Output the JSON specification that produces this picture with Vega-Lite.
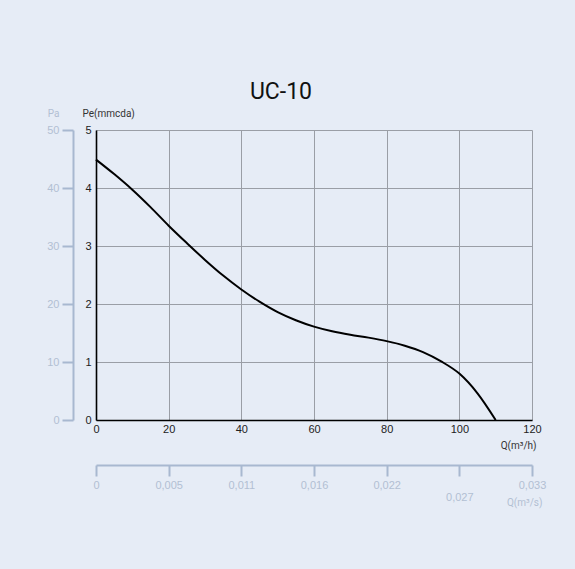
{
  "$schema": "https://vega.github.io/schema/vega-lite/v6.json",
  "width": 436,
  "height": 290,
  "autosize": {"type": "none"},
  "padding": {"left": 96, "top": 130, "right": 43, "bottom": 149},
  "background": "#e6ecf6",
  "title": {
    "text": "UC-10",
    "font": "Roboto",
    "fontSize": 23,
    "fontWeight": "normal",
    "color": "#111111",
    "anchor": "middle",
    "frame": "group",
    "dx": -33,
    "offset": 4
  },
  "config": {
    "view": {"stroke": null},
    "axis": {"labelFont": "Liberation Sans", "titleFont": "Roboto", "titleFontWeight": "normal", "labelFlush": false, "labelOverlap": false}
  },
  "data": {
    "values": [
      {"Q": 0, "Pe": 4.49},
      {"Q": 5, "Pe": 4.24},
      {"Q": 10, "Pe": 3.97},
      {"Q": 15, "Pe": 3.67},
      {"Q": 20, "Pe": 3.35},
      {"Q": 25, "Pe": 3.05},
      {"Q": 30, "Pe": 2.76},
      {"Q": 35, "Pe": 2.49},
      {"Q": 40, "Pe": 2.25},
      {"Q": 45, "Pe": 2.04},
      {"Q": 50, "Pe": 1.86},
      {"Q": 55, "Pe": 1.72},
      {"Q": 60, "Pe": 1.61},
      {"Q": 65, "Pe": 1.53},
      {"Q": 70, "Pe": 1.47},
      {"Q": 75, "Pe": 1.42},
      {"Q": 80, "Pe": 1.36},
      {"Q": 85, "Pe": 1.28},
      {"Q": 90, "Pe": 1.17},
      {"Q": 95, "Pe": 1.01},
      {"Q": 100, "Pe": 0.8},
      {"Q": 105, "Pe": 0.46},
      {"Q": 110, "Pe": 0.0}
    ]
  },
  "layer": [
    {
      "mark": {"type": "line", "color": "#000000", "strokeWidth": 2, "interpolate": "monotone"},
      "encoding": {
        "x": {
          "field": "Q", "type": "quantitative",
          "scale": {"domain": [0, 120], "nice": false, "zero": false},
          "axis": {
            "values": [0, 20, 40, 60, 80, 100, 120],
            "grid": true, "gridColor": "#9a9ea6", "gridWidth": 1, "gridOpacity": 1,
            "domainColor": "#000000", "domainWidth": 1.6,
            "ticks": false, "labelPadding": 3, "labelFontSize": 11, "labelColor": "#222222",
            "title": "Q(m³/h)", "titleFontSize": 10, "titleColor": "#333333",
            "titleAlign": "right", "titleBaseline": "middle", "titleAnchor": null,
            "titleX": 440, "titleY": 25
          }
        },
        "y": {
          "field": "Pe", "type": "quantitative",
          "scale": {"domain": [0, 5], "nice": false, "zero": false},
          "axis": {
            "values": [0, 1, 2, 3, 4, 5],
            "grid": true, "gridColor": "#9a9ea6", "gridWidth": 1, "gridOpacity": 1,
            "domainColor": "#000000", "domainWidth": 1.6,
            "ticks": false, "labelPadding": 5, "labelFontSize": 11, "labelColor": "#222222",
            "title": "Pe(mmcda)", "titleFontSize": 10, "titleColor": "#333333",
            "titleAngle": 0, "titleAlign": "left", "titleBaseline": "middle", "titleAnchor": null,
            "titleX": -14, "titleY": -17
          }
        }
      }
    },
    {
      "mark": {"type": "line", "strokeOpacity": 0},
      "encoding": {
        "x": {"field": "Q", "type": "quantitative", "scale": {"domain": [0, 120], "nice": false, "zero": false}, "axis": null},
        "y": {
          "field": "Pe", "type": "quantitative",
          "scale": {"domain": [0, 5], "nice": false, "zero": false},
          "axis": {
            "orient": "left", "offset": 23,
            "values": [0, 1, 2, 3, 4, 5],
            "labelExpr": "format(datum.value * 10, 'd')",
            "grid": false,
            "domainColor": "#a8b8d0", "domainWidth": 2,
            "tickColor": "#a8b8d0", "tickWidth": 2, "tickSize": 11,
            "labelPadding": 3, "labelFontSize": 11, "labelColor": "#b2bfd3",
            "title": "Pa", "titleFontSize": 10, "titleColor": "#b2bfd3",
            "titleAngle": 0, "titleAlign": "right", "titleBaseline": "middle", "titleAnchor": null,
            "titleX": -14, "titleY": -17
          }
        }
      }
    },
    {
      "mark": {"type": "line", "strokeOpacity": 0},
      "encoding": {
        "x": {
          "field": "Q", "type": "quantitative",
          "scale": {"domain": [0, 120], "nice": false, "zero": false},
          "axis": {
            "orient": "bottom", "offset": 45,
            "values": [0, 20, 40, 60, 80, 100, 120],
            "labelExpr": "datum.value == 0 ? '0' : datum.value == 20 ? '0,005' : datum.value == 40 ? '0,011' : datum.value == 60 ? '0,016' : datum.value == 80 ? '0,022' : datum.value == 100 ? ['', '0,027'] : '0,033'",
            "grid": false,
            "domainColor": "#a8b8d0", "domainWidth": 2,
            "tickColor": "#a8b8d0", "tickWidth": 2, "tickSize": 11,
            "labelPadding": 3, "labelFontSize": 11, "labelColor": "#b2bfd3", "labelLineHeight": 12,
            "title": "Q(m³/s)", "titleFontSize": 10, "titleColor": "#b2bfd3",
            "titleAlign": "right", "titleBaseline": "middle", "titleAnchor": null,
            "titleX": 446, "titleY": 37
          }
        },
        "y": {"field": "Pe", "type": "quantitative", "scale": {"domain": [0, 5], "nice": false, "zero": false}, "axis": null}
      }
    }
  ],
  "resolve": {"scale": {"x": "independent", "y": "independent"}}
}
